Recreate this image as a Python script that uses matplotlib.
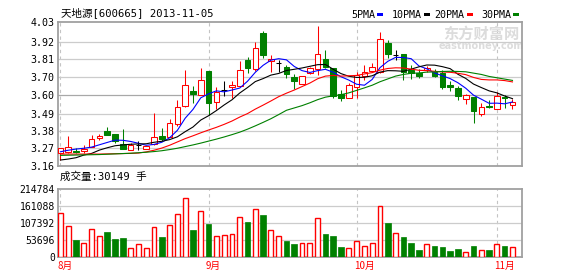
import matplotlib
matplotlib.use('Agg')
import matplotlib.pyplot as plt
from matplotlib.patches import Rectangle

title = "天地源[600665] 2013-11-05"
volume_caption = "成交量:30149 手"

opens = [3.240, 3.243, 3.252, 3.249, 3.276, 3.327, 3.371, 3.353, 3.291, 3.257,
         3.287, 3.261, 3.293, 3.341, 3.333, 3.413, 3.522, 3.610, 3.586, 3.733,
         3.544, 3.618, 3.636, 3.640, 3.797, 3.743, 3.962, 3.795, 3.781, 3.757,
         3.697, 3.653, 3.719, 3.743, 3.805, 3.749, 3.594, 3.568, 3.638, 3.703,
         3.735, 3.729, 3.902, 3.829, 3.833, 3.739, 3.719, 3.737, 3.725, 3.719,
         3.650, 3.632, 3.562, 3.578, 3.474, 3.522, 3.502, 3.576, 3.528]
highs = [3.270, 3.341, 3.270, 3.287, 3.347, 3.353, 3.393, 3.353, 3.381, 3.299,
         3.311, 3.283, 3.478, 3.391, 3.443, 3.558, 3.739, 3.642, 3.753, 3.733,
         3.638, 3.674, 3.674, 3.795, 3.817, 3.906, 3.976, 3.829, 3.799, 3.769,
         3.713, 3.703, 3.759, 4.002, 3.859, 3.749, 3.618, 3.659, 3.725, 3.769,
         3.779, 3.970, 3.920, 3.859, 3.833, 3.769, 3.743, 3.765, 3.743, 3.739,
         3.674, 3.644, 3.596, 3.578, 3.538, 3.558, 3.604, 3.588, 3.562]
lows = [3.196, 3.240, 3.240, 3.240, 3.276, 3.317, 3.345, 3.299, 3.261, 3.257,
        3.258, 3.261, 3.287, 3.311, 3.333, 3.403, 3.518, 3.538, 3.586, 3.468,
        3.502, 3.582, 3.572, 3.640, 3.721, 3.735, 3.809, 3.725, 3.725, 3.689,
        3.622, 3.653, 3.713, 3.709, 3.749, 3.568, 3.554, 3.568, 3.568, 3.680,
        3.729, 3.719, 3.813, 3.799, 3.676, 3.683, 3.692, 3.725, 3.698, 3.624,
        3.612, 3.558, 3.534, 3.417, 3.463, 3.508, 3.502, 3.512, 3.502]
closes = [3.267, 3.273, 3.243, 3.264, 3.321, 3.339, 3.345, 3.309, 3.261, 3.285,
          3.287, 3.283, 3.333, 3.325, 3.421, 3.514, 3.647, 3.596, 3.677, 3.542,
          3.604, 3.618, 3.647, 3.737, 3.751, 3.871, 3.829, 3.803, 3.781, 3.717,
          3.671, 3.703, 3.749, 3.833, 3.759, 3.582, 3.568, 3.647, 3.709, 3.729,
          3.757, 3.924, 3.837, 3.829, 3.725, 3.719, 3.705, 3.753, 3.703, 3.638,
          3.638, 3.580, 3.586, 3.493, 3.518, 3.514, 3.582, 3.568, 3.546]
volumes = [138000, 97000, 53000, 43000, 87000, 65000, 79000, 56000, 60000, 27000,
           40000, 27000, 94000, 63000, 100000, 135000, 186000, 85000, 145000, 104000,
           65000, 68000, 71000, 126000, 111000, 151000, 133000, 85000, 65000, 50000,
           40000, 43000, 43000, 122000, 72000, 66000, 31000, 27000, 49000, 33000,
           43000, 161000, 107000, 75000, 63000, 44000, 21000, 40000, 34000, 31000,
           18000, 25000, 14000, 34000, 21000, 21000, 40000, 34000, 30149]
ma5 = [3.246, 3.255, 3.262, 3.267, 3.274, 3.288, 3.302, 3.316, 3.315, 3.308,
       3.297, 3.285, 3.290, 3.303, 3.330, 3.375, 3.448, 3.501, 3.571, 3.595,
       3.613, 3.607, 3.618, 3.630, 3.671, 3.725, 3.767, 3.798, 3.807, 3.800,
       3.760, 3.735, 3.724, 3.735, 3.743, 3.725, 3.698, 3.678, 3.653, 3.647,
       3.682, 3.753, 3.791, 3.815, 3.814, 3.807, 3.763, 3.746, 3.721, 3.704,
       3.687, 3.662, 3.629, 3.587, 3.563, 3.538, 3.539, 3.535, 3.546]
ma10 = [3.196, 3.202, 3.210, 3.226, 3.236, 3.256, 3.270, 3.282, 3.287, 3.291,
        3.293, 3.294, 3.303, 3.309, 3.319, 3.336, 3.367, 3.395, 3.437, 3.463,
        3.494, 3.528, 3.559, 3.600, 3.633, 3.669, 3.687, 3.708, 3.718, 3.736,
        3.743, 3.751, 3.761, 3.771, 3.772, 3.743, 3.717, 3.701, 3.694, 3.695,
        3.704, 3.726, 3.735, 3.734, 3.731, 3.744, 3.758, 3.769, 3.768, 3.759,
        3.747, 3.713, 3.688, 3.654, 3.633, 3.613, 3.601, 3.582, 3.566]
ma20 = [3.232, 3.232, 3.232, 3.232, 3.232, 3.232, 3.233, 3.234, 3.235, 3.236,
        3.238, 3.245, 3.255, 3.268, 3.285, 3.305, 3.325, 3.342, 3.360, 3.377,
        3.393, 3.411, 3.431, 3.455, 3.476, 3.503, 3.527, 3.552, 3.578, 3.599,
        3.618, 3.639, 3.660, 3.686, 3.702, 3.706, 3.702, 3.704, 3.706, 3.715,
        3.723, 3.738, 3.748, 3.752, 3.751, 3.744, 3.737, 3.735, 3.731, 3.727,
        3.725, 3.719, 3.711, 3.694, 3.682, 3.679, 3.679, 3.675, 3.667]
ma30 = [3.224, 3.225, 3.226, 3.227, 3.228, 3.229, 3.231, 3.233, 3.235, 3.237,
        3.240, 3.243, 3.247, 3.252, 3.259, 3.267, 3.277, 3.287, 3.298, 3.310,
        3.322, 3.335, 3.349, 3.364, 3.382, 3.402, 3.423, 3.445, 3.470, 3.496,
        3.510, 3.524, 3.541, 3.560, 3.575, 3.583, 3.590, 3.601, 3.616, 3.631,
        3.647, 3.668, 3.685, 3.702, 3.712, 3.719, 3.721, 3.726, 3.727, 3.730,
        3.731, 3.730, 3.728, 3.720, 3.712, 3.700, 3.692, 3.684, 3.676]

price_ticks = [4.03, 3.906, 3.803, 3.698, 3.590, 3.472, 3.369, 3.267, 3.16]
price_labels = ["4.03", "3.92", "3.81", "3.70", "3.60", "3.49", "3.38", "3.27", "3.16"]
vol_ticks = [0, 53696, 107392, 161088, 214784]
vol_labels = ["0", "53696", "107392", "161088", "214784"]
month_labels = ["8月", "9月", "10月", "11月"]
month_starts = [0, 19, 38, 56]
ma_names = ["5PMA", "10PMA", "20PMA", "30PMA"]
ma_colors = ["#0000ff", "#000000", "#ff0000", "#008000"]

RED = "#ff0000"
GREEN = "#008000"
FRAME = "#a0a0a0"
GRID = "#cccccc"
MONO = ["DejaVu Sans Mono", "Noto Sans CJK SC"]
CJK = ["Noto Sans CJK SC", "DejaVu Sans"]

W, H = 578, 276
fig = plt.figure(figsize=(W / 100, H / 100), dpi=100)
fig.patch.set_facecolor("white")

L, R = 58.3, 522.3
ax = fig.add_axes([L / W, 1 - 166 / H, (R - L) / W, (166 - 21.7) / H])
axv = fig.add_axes([L / W, 1 - 256.7 / H, (R - L) / W, (256.7 - 189.3) / H])

n = len(closes)
xs = list(range(n))
bw = 0.72
lw = 0.75

for a in (ax, axv):
    a.set_xlim(-0.28, n - 1 + 1.26)
    for s in a.spines.values():
        s.set_color(FRAME)
        s.set_linewidth(1.3)
    a.tick_params(length=0, pad=2.5, labelsize=7.2, colors="black")
    a.set_xticks([])
    for m in month_starts:
        a.axvline(m, color="#c4c4c4", lw=0.8, ls=(0, (3, 3)), zorder=0)

# price panel
ax.set_ylim(3.16, 4.03)
ax.set_yticks(price_ticks)
ax.set_yticklabels(price_labels, family=MONO)
for i, t in enumerate(price_ticks):
    if i in (0, len(price_ticks) - 1):
        continue
    col = "#a8a8a8" if price_labels[i] == "3.60" else GRID
    ax.axhline(t, color=col, lw=0.9, zorder=0)

for i in xs:
    o, h, l, c = opens[i], highs[i], lows[i], closes[i]
    if c > o:
        ax.add_patch(Rectangle((i - bw / 2, o), bw, c - o, facecolor="white",
                               edgecolor=RED, lw=lw, zorder=3))
        ax.vlines(i, c, h, color=RED, lw=lw, zorder=3)
        ax.vlines(i, l, o, color=RED, lw=lw, zorder=3)
    elif c < o:
        ax.add_patch(Rectangle((i - bw / 2, c), bw, o - c, facecolor=GREEN,
                               edgecolor=GREEN, lw=lw, zorder=3))
        ax.vlines(i, l, h, color=GREEN, lw=lw, zorder=3)
    else:
        ax.hlines(o, i - bw / 2, i + bw / 2, color="black", lw=lw, zorder=3)
        ax.vlines(i, l, h, color="black", lw=lw, zorder=3)

for vals, col in zip([ma5, ma10, ma20, ma30], ma_colors):
    ax.plot(xs, vals, color=col, lw=0.8, zorder=4)

# watermark
ax.text(0.912, 0.918, "东方财富网", transform=ax.transAxes, ha="center", va="center",
        fontsize=11, fontweight="bold", color="#dcdcdc", family=CJK, zorder=1)
ax.text(0.912, 0.835, "eastmoney.com", transform=ax.transAxes, ha="center", va="center",
        fontsize=7, fontweight="bold", color="#dcdcdc", family="DejaVu Sans", zorder=1)

# volume panel
axv.set_ylim(0, 214784)
axv.set_yticks(vol_ticks)
axv.set_yticklabels(vol_labels, family=MONO, fontsize=7)
for t in vol_ticks[1:-1]:
    axv.axhline(t, color=GRID, lw=0.9, zorder=0)
for i in xs:
    v = volumes[i]
    if closes[i] >= opens[i]:
        axv.add_patch(Rectangle((i - bw / 2 + 0.05, 0), bw - 0.1, v, facecolor="white",
                                edgecolor=RED, lw=1.0, zorder=3))
    else:
        axv.add_patch(Rectangle((i - bw / 2, 0), bw, v, facecolor=GREEN,
                                edgecolor=GREEN, lw=0.5, zorder=3))

for m, lab in zip(month_starts, month_labels):
    axv.text(m - 0.35, -0.13, lab, transform=axv.get_xaxis_transform(), ha="left",
             va="center", color=RED, fontsize=7, family=CJK)

# texts
fig.text(61 / W, 1 - 13 / H, title, ha="left", va="center", fontsize=7.6,
         family=MONO)
fig.text(60 / W, 1 - 176.5 / H, volume_caption, ha="left", va="center",
         fontsize=7.6, family=MONO)

# legend
leg_x = [351, 392, 434.7, 481.3]
for x0, name, col in zip(leg_x, ma_names, ma_colors):
    t = fig.text(x0 / W, 1 - 14.5 / H, name, ha="left", va="center", fontsize=7.2,
                 family=MONO)
    xe = x0 + 6 * len(name) + 2
    fig.patches.append(Rectangle((xe / W, 1 - 16 / H), 6 / W, 3 / H,
                                 transform=fig.transFigure, facecolor=col,
                                 edgecolor="none"))

fig.savefig("out.png", dpi=100, facecolor="white")
